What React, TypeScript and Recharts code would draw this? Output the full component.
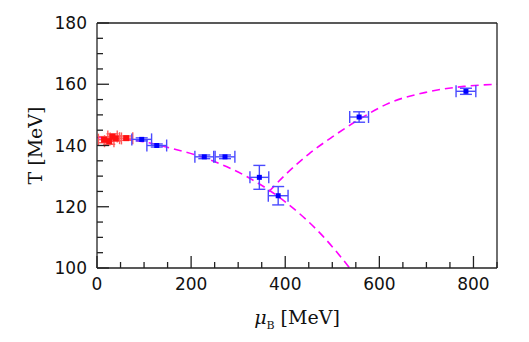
import { ComposedChart, Line, Scatter, ErrorBar, XAxis, YAxis, ReferenceLine, Label } from 'recharts'

// lattice points (blue)
const blueMu = [95, 127, 228, 272, 345, 385, 557, 784]
const blueT = [142.0, 140.0, 136.3, 136.3, 129.6, 123.6, 149.3, 157.7]
const blueDmu = [21, 21, 20, 21, 20, 21, 20, 21]
const blueDT = [0.5, 0.5, 0.6, 0.6, 3.9, 3.0, 1.7, 1.0]

// red points near mu = 0
const redMu = [15, 26, 33, 40, 62]
const redT = [141.9, 141.4, 142.9, 142.3, 142.4]
const redDmu = [12, 10, 10, 12, 14]
const redDT = [1.0, 1.0, 0.9, 0.8, 0.7]

// dashed curves
const c1Mu = [0, 80, 160, 240, 320, 400, 480, 537]
const c1T = [142.6, 141.7, 139.0, 135.3, 129.7, 121.6, 110.4, 100]
const c2Mu = [365, 400, 450, 500, 560, 620, 700, 780, 850]
const c2T = [124.9, 130.4, 137.2, 142.8, 148.8, 153.8, 157.4, 159.3, 160.0]

const xTicks = [0, 50, 100, 150, 200, 250, 300, 350, 400, 450, 500, 550, 600, 650, 700, 750, 800, 850]
const yTicks = [100, 105, 110, 115, 120, 125, 130, 135, 140, 145, 150, 155, 160, 165, 170, 175, 180]

const blue = blueMu.map((mu, i) => ({ mu, T: blueT[i], ex: blueDmu[i], ey: blueDT[i] }))
const red = redMu.map((mu, i) => ({ mu, T: redT[i], ex: redDmu[i], ey: redDT[i] }))
const curve1 = c1Mu.map((mu, i) => ({ mu, T: c1T[i] }))
const curve2 = c2Mu.map((mu, i) => ({ mu, T: c2T[i] }))

const AX = '#222'
const NUM_FONT = '"DejaVu Sans", sans-serif'
const LBL_FONT = '"DejaVu Serif", serif'

function BottomTick({ x, y, payload }: any) {
  const major = payload.value % 200 === 0
  return (
    <g>
      <line x1={x} y1={y} x2={x} y2={y - (major ? 12 : 6)} stroke={AX} strokeWidth={1.3} />
      {major && payload.value <= 800 && (
        <text x={x} y={y + 22} textAnchor="middle" fontSize={17} fontFamily={NUM_FONT} fill="#111">{payload.value}</text>
      )}
    </g>
  )
}

function LeftTick({ x, y, payload }: any) {
  const major = payload.value % 20 === 0
  return (
    <g>
      <line x1={x} y1={y} x2={x + (major ? 12 : 6)} y2={y} stroke={AX} strokeWidth={1.3} />
      {major && (
        <text x={x - 10} y={y + 6} textAnchor="end" fontSize={17} fontFamily={NUM_FONT} fill="#111">{payload.value}</text>
      )}
    </g>
  )
}

function RightTick({ x, y, payload }: any) {
  const major = payload.value % 20 === 0
  return <line x1={x} y1={y} x2={x - (major ? 12 : 6)} y2={y} stroke={AX} strokeWidth={1.3} />
}

const square = (fill: string, s: number) => (p: any) =>
  <rect x={p.cx - s / 2} y={p.cy - s / 2} width={s} height={s} fill={fill} />

export default function App() {
  return (
    <div style={{ position: 'absolute', left: 0, top: 0, background: '#fff' }}>
      <ComposedChart width={529} height={342} margin={{ top: 23, right: 31, left: 0, bottom: 73 }}>
        <XAxis
          dataKey="mu" type="number" domain={[0, 850]} ticks={xTicks} allowDataOverflow
          height={1} tickSize={0} tickMargin={0} tick={<BottomTick />}
          axisLine={{ stroke: AX, strokeWidth: 1.3 }} interval={0}
        >
          <Label
            position="bottom"
            content={({ viewBox }: any) => (
              <text x={viewBox.x + viewBox.width / 2} y={viewBox.y + 56} textAnchor="middle" fontSize={19} fontFamily={LBL_FONT} fill="#111">
                <tspan fontStyle="italic">μ</tspan>
                <tspan fontSize={11} dy={5}>B</tspan>
                <tspan dy={-5}> [MeV]</tspan>
              </text>
            )}
          />
        </XAxis>
        <YAxis
          type="number" domain={[100, 180]} ticks={yTicks} width={97} allowDataOverflow
          tickSize={0} tickMargin={0} tick={<LeftTick />} interval={0}
          axisLine={{ stroke: AX, strokeWidth: 1.3 }}
        >
          <Label
            position="left"
            content={({ viewBox }: any) => {
              const cx = 35
              const cy = viewBox.y + viewBox.height / 2
              return (
                <text x={cx} y={cy} transform={`rotate(-90 ${cx} ${cy})`} textAnchor="middle" dominantBaseline="central" fontSize={19} fontFamily={LBL_FONT} fill="#111">
                  T [MeV]
                </text>
              )
            }}
          />
        </YAxis>
        <YAxis
          yAxisId="r" orientation="right" type="number" domain={[100, 180]} ticks={yTicks} width={1}
          tickSize={0} tickMargin={0} tick={<RightTick />} interval={0}
          axisLine={{ stroke: AX, strokeWidth: 1.3 }}
        />
        <ReferenceLine y={180} stroke={AX} strokeWidth={1.3} />

        <Line data={curve1} dataKey="T" type="monotone" stroke="#ff00ff" strokeWidth={1.6} strokeDasharray="8 5" dot={false} isAnimationActive={false} />
        <Line data={curve2} dataKey="T" type="monotone" stroke="#ff00ff" strokeWidth={1.6} strokeDasharray="8 5" dot={false} isAnimationActive={false} />

        <Scatter data={red} dataKey="T" shape={square('#ff1010', 6)} isAnimationActive={false}>
          <ErrorBar dataKey="ex" direction="x" width={6} stroke="#ff5a5a" strokeWidth={1.4} />
          <ErrorBar dataKey="ey" direction="y" width={6} stroke="#ff5a5a" strokeWidth={1.4} />
        </Scatter>
        <Scatter data={blue} dataKey="T" shape={square('#0000ff', 5)} isAnimationActive={false}>
          <ErrorBar dataKey="ex" direction="x" width={6} stroke="#4a4aff" strokeWidth={1.4} />
          <ErrorBar dataKey="ey" direction="y" width={6} stroke="#4a4aff" strokeWidth={1.4} />
        </Scatter>
      </ComposedChart>
    </div>
  )
}
